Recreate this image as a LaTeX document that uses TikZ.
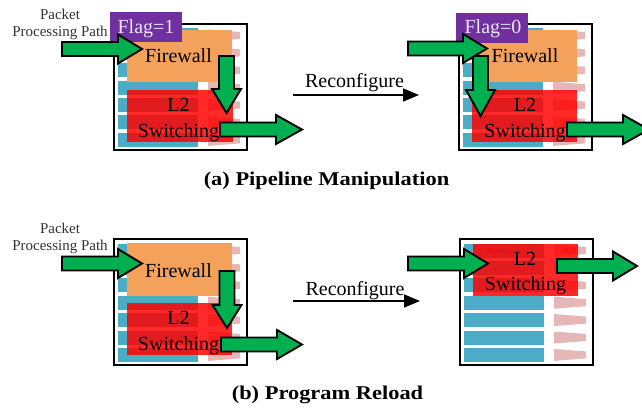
\documentclass[tikz,border=0pt]{standalone}
\usepackage{fontspec}
\setmainfont{Liberation Serif}
\newfontfamily\capfont[FakeStretch=1.15]{Liberation Serif}
\usetikzlibrary{arrows.meta}

\definecolor{memblue}{RGB}{75,172,198}
\definecolor{alupink}{RGB}{229,184,183}
\definecolor{fworange}{RGB}{243,161,91}
\definecolor{flagpurple}{RGB}{112,48,160}
\definecolor{pathgreen}{RGB}{0,176,80}
\definecolor{flagtext}{RGB}{236,230,246}
\definecolor{tinyred}{RGB}{175,10,10}

\tikzset{
  chipframe/.style={draw=black, line width=1.8pt, fill=white},
  memrow/.style={fill=memblue},
  alurow/.style={fill=alupink},
  fwbox/.style={fill=fworange},
  l2box/.style={fill=red, fill opacity=0.84},
  flagbox/.style={fill=flagpurple},
  fatarrow/.style={fill=pathgreen, draw=black, line width=1.9pt, line join=miter},
  boxtext/.style={font=\fontsize{20}{22}\selectfont, inner sep=0pt, anchor=base},
  flagtextstyle/.style={boxtext, text=flagtext},
  pathtext/.style={font=\fontsize{15}{17}\selectfont, text=black!80, inner sep=0pt, anchor=base},
  tinylbl/.style={font=\fontsize{7.5}{8}\selectfont, text=tinyred, inner sep=0pt, anchor=base},
  reconf/.style={line width=1.6pt, -{Triangle[length=16pt,width=13pt]}},
  captext/.style={font=\capfont\bfseries\fontsize{19.5}{22}\selectfont, inner sep=0pt, anchor=base},
}

% switch chip: frame, memory rows (blue) and ALU slots (pink); #1,#2 = top-left corner
\newcommand{\chipbase}[2]{%
  \draw[chipframe] (#1+1,#2+1) rectangle (#1+134,#2+127);
  \foreach \k in {0,...,6} {
    \pgfmathsetmacro\ry{#2+5.5+17.4*\k}
    \fill[memrow] (#1+5,\ry) rectangle (#1+85,\ry+14);
    \fill[alurow] (#1+95,\ry+1) -- (#1+127,\ry+3.5) -- (#1+127,\ry+10.5) -- (#1+95,\ry+13) -- cycle;
  }%
}
% fat arrow pointing right: start x, centre y, tip x, head length
\newcommand{\fatright}[4]{%
  \draw[fatarrow] (#1,#2-7) -- (#3-#4,#2-7) -- (#3-#4,#2-14.5) -- (#3,#2)
    -- (#3-#4,#2+14.5) -- (#3-#4,#2+7) -- (#1,#2+7) -- cycle;}
% fat arrow pointing down: centre x, start y, tip y, head length
\newcommand{\fatdown}[4]{%
  \draw[fatarrow] (#1-7.5,#2) -- (#1-7.5,#3-#4) -- (#1-14.5,#3-#4) -- (#1,#3)
    -- (#1+14.5,#3-#4) -- (#1+7.5,#3-#4) -- (#1+7.5,#2) -- cycle;}

\begin{document}
\begin{tikzpicture}[x=1pt,y=-1pt]
\useasboundingbox (0,0) rectangle (642,409);

% ---------- (a) pipeline manipulation, before ----------
\node[pathtext] (pktA1) at (60,20) {Packet};
\node[pathtext] (pktA2) at (60,37) {Processing Path};
\chipbase{113}{23}
\fill[fwbox] (127,30) rectangle (232,82);
\fill[l2box] (127,90) rectangle (233,142);
\node[boxtext] (fwA) at (178.5,63) {Firewall};
\node[boxtext] (l2A) at (178.5,112) {L2};
\node[boxtext] (swA) at (178.5,137) {Switching};
\fill[flagbox] (110,12) rectangle (182,42);
\node[flagtextstyle] (flagA) at (146,34) {Flag=1};
\fatdown{226.5}{56}{113}{24}
\fatright{62}{49}{142}{24}
\fatright{220}{129.5}{302}{26}

% reconfigure step
\coordinate (rcA0) at (293,95);
\coordinate (rcA1) at (419,95);
\draw[reconf] (rcA0) -- (rcA1);
\node[boxtext] (rcAl) at (354.5,88) {Reconfigure};

% ---------- (a) pipeline manipulation, after ----------
\chipbase{458}{23}
\fill[fwbox] (472,30) rectangle (577,82);
\fill[l2box] (472,90) rectangle (577,142);
\node[boxtext] (fwB) at (525,63) {Firewall};
\node[boxtext] (l2B) at (525,112) {L2};
\node[boxtext] (swB) at (525,137) {Switching};
\fill[flagbox] (456,13) rectangle (528,43);
\node[flagtextstyle] (flagB) at (493,34) {Flag=0};
\fatdown{480.5}{56}{116}{26}
\fatright{408}{48.5}{487}{24}
\fatright{567}{129.5}{649}{26}

\node[captext] (capA) at (326.5,185) {(a) Pipeline Manipulation};

% ---------- (b) program reload, before ----------
\node[pathtext] (pktB1) at (60,233) {Packet};
\node[pathtext] (pktB2) at (60,250) {Processing Path};
\chipbase{113}{238}
\fill[fwbox] (127,243) rectangle (232,296);
\fill[l2box] (127,303) rectangle (232,355);
\node[boxtext] (fwC) at (178.5,277) {Firewall};
\node[boxtext] (l2C) at (178.5,324) {L2};
\node[boxtext] (swC) at (178.5,350) {Switching};
\fatdown{227}{271}{328}{23}
\fatright{62}{263.5}{142}{24}
\fatright{221}{344.5}{302}{25}

\coordinate (rcB0) at (293,301);
\coordinate (rcB1) at (420,301);
\draw[reconf] (rcB0) -- (rcB1);
\node[boxtext] (rcBl) at (355,295) {Reconfigure};

% ---------- (b) program reload, after ----------
\chipbase{459}{238}
\node[tinylbl] (memD) at (500,253) {Memory};
\node[tinylbl] (aluD) at (569,253) {ALU};
\fill[l2box] (473,244) rectangle (578,296);
\node[boxtext] (l2D) at (525,265) {L2};
\node[boxtext] (swD) at (525.5,290) {Switching};
\fatright{408}{263.5}{488}{24}
\fatright{557}{266}{637}{24}

\node[captext] (capB) at (327.5,399) {(b) Program Reload};
\end{tikzpicture}
\end{document}
